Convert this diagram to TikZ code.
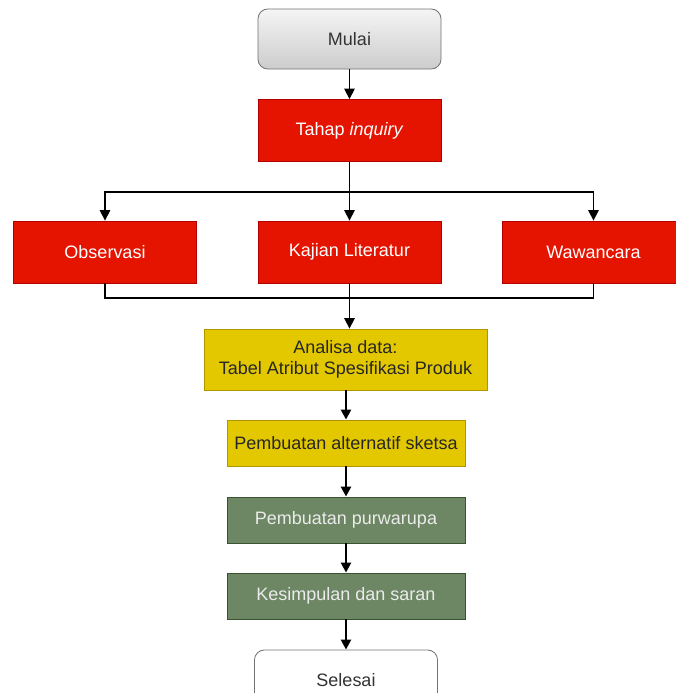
\documentclass[tikz,border=0pt]{standalone}
\usepackage{fontspec}
\setmainfont{Liberation Sans}
\usetikzlibrary{arrows.meta}

\definecolor{stepred}{HTML}{E51400}
\definecolor{stepredline}{HTML}{B20000}
\definecolor{stepyellow}{HTML}{E3C800}
\definecolor{stepyellowline}{HTML}{B09500}
\definecolor{stepgreen}{HTML}{6D8764}
\definecolor{stepgreenline}{HTML}{3A5431}
\definecolor{textgray}{HTML}{333333}

\tikzset{
    basebox/.style={draw, line width=0.6pt, align=center, inner sep=2pt,
        font=\fontsize{12.8}{15}\selectfont},
    terminal/.style={basebox, rounded corners=7pt, draw=black!55, text=textgray,
        minimum width=4.575cm, minimum height=1.5cm},
    redbox/.style={basebox, fill=stepred, draw=stepredline, text=white,
        minimum width=4.575cm, minimum height=1.55cm},
    yellowbox/.style={basebox, fill=stepyellow, draw=stepyellowline, text=black!85},
    greenbox/.style={basebox, fill=stepgreen, draw=stepgreenline, text=white!92!black},
    flow/.style={line width=1.1pt, -{Triangle[length=7.5pt,width=7.5pt]}},
    heavyflow/.style={line width=1.7pt, -{Triangle[length=7pt,width=7pt]}},
    joint/.style={line width=1.1pt}
}

\begin{document}
\begin{tikzpicture}[x=0.025cm, y=-0.025cm]

    % Fix the page to the size of the reference
    \useasboundingbox (0, 0) rectangle (676, 693);

    % Start and first stage
    \node[terminal, top color=black!4, bottom color=black!20] (mulai) at (349.5, 39) {Mulai};
    \node[redbox] (inquiry) at (349.5, 130.5) {Tahap \textit{inquiry}};

    % The three inquiry activities
    \node[redbox] (observasi) at (105, 252) {Observasi};
    \node[redbox] (kajian) at (349.5, 252) {Kajian Literatur};
    \node[redbox] (wawancara) at (593.5, 252) {Wawancara};

    % Analysis and design stages
    \node[yellowbox, minimum width=7.075cm, minimum height=1.525cm] (analisa) at (345.5, 359.5)
        {Analisa data:\\Tabel Atribut Spesifikasi Produk};
    \node[yellowbox, minimum width=5.95cm, minimum height=1.15cm] (sketsa) at (346, 443)
        {Pembuatan alternatif sketsa};
    \node[greenbox, minimum width=5.95cm, minimum height=1.15cm] (purwarupa) at (346, 520)
        {Pembuatan purwarupa};
    \node[greenbox, minimum width=5.95cm, minimum height=1.15cm] (kesimpulan) at (346, 596)
        {Kesimpulan dan saran};
    \node[terminal, fill=white] (selesai) at (346, 680) {Selesai};

    % Split and merge points
    \coordinate (split) at (349.5, 192);
    \coordinate (merge) at (349.5, 298);

    % Connectors
    \draw[flow] (mulai) -- (inquiry);
    \draw[joint] (inquiry.south) -- (split);
    \draw[flow] (split) -| (observasi.north);
    \draw[flow] (split) -- (kajian.north);
    \draw[flow] (split) -| (wawancara.north);
    \draw[joint] (observasi.south) |- (merge);
    \draw[joint] (wawancara.south) |- (merge);
    \draw[flow] (kajian.south) -- (kajian.south |- analisa.north);
    \draw[heavyflow] (analisa.south -| sketsa.north) -- (sketsa.north);
    \draw[heavyflow] (sketsa) -- (purwarupa);
    \draw[heavyflow] (purwarupa) -- (kesimpulan);
    \draw[heavyflow] (kesimpulan) -- (selesai);

\end{tikzpicture}
\end{document}
